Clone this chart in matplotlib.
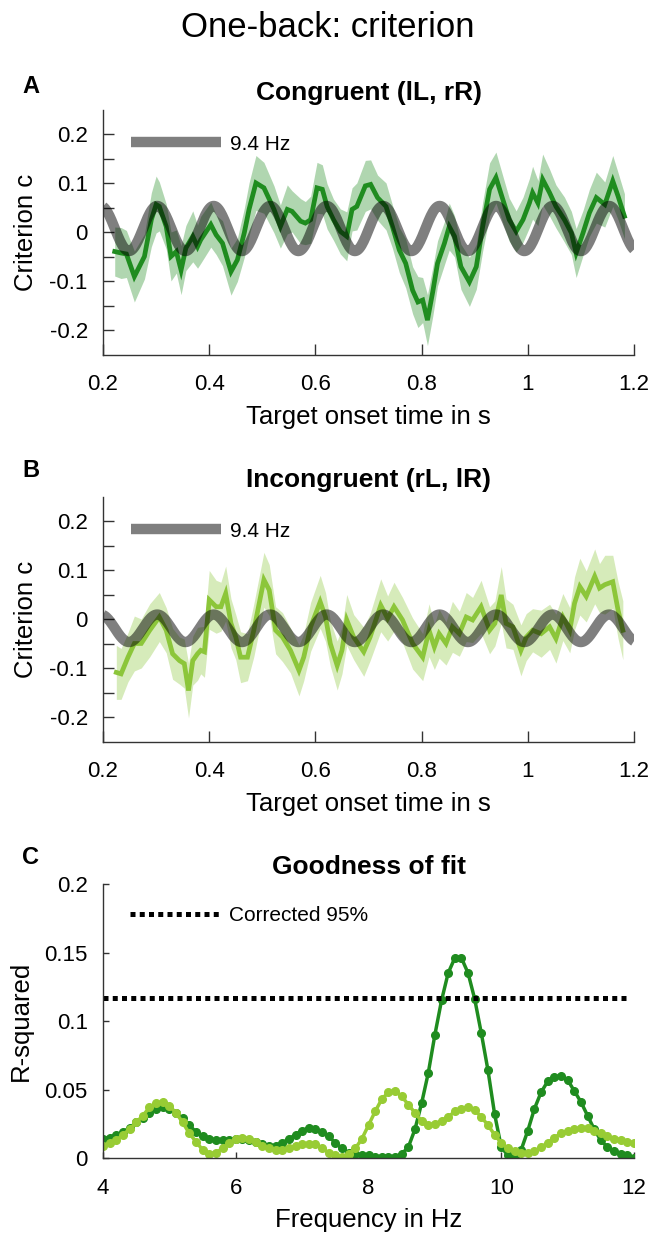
import numpy as np
import matplotlib
matplotlib.use('Agg')
import matplotlib.pyplot as plt

plt.rcParams['font.family'] = ['Liberation Sans', 'DejaVu Sans']
plt.rcParams['axes.unicode_minus'] = False

# Panel A: congruent (lL, rR), mean criterion and its error band
time_a = [0.222, 0.234, 0.244, 0.259, 0.278, 0.291, 0.300, 0.306, 0.319, 0.328,
          0.338, 0.347, 0.356, 0.369, 0.378, 0.384, 0.403, 0.413, 0.425, 0.441,
          0.453, 0.466, 0.475, 0.488, 0.503, 0.522, 0.534, 0.547, 0.556, 0.572,
          0.581, 0.591, 0.603, 0.613, 0.622, 0.634, 0.647, 0.659, 0.669, 0.678,
          0.694, 0.704, 0.717, 0.733, 0.745, 0.758, 0.770, 0.783, 0.793, 0.802,
          0.811, 0.821, 0.830, 0.843, 0.852, 0.862, 0.874, 0.890, 0.903, 0.915,
          0.928, 0.940, 0.953, 0.965, 0.978, 0.991, 1.003, 1.009, 1.019, 1.028,
          1.041, 1.053, 1.069, 1.082, 1.091, 1.104, 1.116, 1.129, 1.145, 1.160,
          1.170, 1.182]
crit_a = [-0.039, -0.042, -0.044, -0.090, -0.049, 0.026, 0.057, 0.053, 0.012, -0.049,
          -0.039, -0.077, -0.032, -0.008, -0.029, -0.015, 0.016, -0.005, -0.022, -0.080,
          -0.056, -0.001, 0.047, 0.101, 0.091, 0.047, 0.012, 0.047, 0.043, 0.023,
          0.019, 0.026, 0.091, 0.088, 0.053, 0.026, 0.002, -0.008, 0.047, 0.053,
          0.095, 0.098, 0.071, 0.053, 0.012, -0.036, -0.063, -0.118, -0.142, -0.138,
          -0.179, -0.121, -0.063, -0.022, 0.012, -0.008, -0.070, -0.101, -0.070, 0.012,
          0.088, 0.112, 0.067, 0.026, 0.002, 0.026, 0.060, 0.081, 0.060, 0.108,
          0.081, 0.053, 0.026, -0.001, -0.042, -0.001, 0.040, 0.071, 0.057, 0.105,
          0.074, 0.033]
sem_a = [0.050, 0.052, 0.048, 0.052, 0.046, 0.055, 0.058, 0.050, 0.046, 0.050,
         0.044, 0.050, 0.046, 0.052, 0.044, 0.048, 0.046, 0.040, 0.046, 0.048,
         0.044, 0.050, 0.054, 0.056, 0.052, 0.048, 0.044, 0.050, 0.042, 0.046,
         0.044, 0.048, 0.052, 0.050, 0.046, 0.042, 0.046, 0.050, 0.044, 0.048,
         0.052, 0.050, 0.046, 0.048, 0.044, 0.046, 0.050, 0.048, 0.052, 0.046,
         0.052, 0.050, 0.046, 0.044, 0.048, 0.042, 0.046, 0.050, 0.046, 0.050,
         0.054, 0.052, 0.048, 0.044, 0.042, 0.046, 0.050, 0.054, 0.046, 0.052,
         0.048, 0.044, 0.046, 0.044, 0.050, 0.046, 0.048, 0.052, 0.046, 0.052,
         0.048, 0.046]

# Panel B: incongruent (rL, lR)
time_b = [0.225, 0.234, 0.247, 0.259, 0.272, 0.288, 0.306, 0.319, 0.331, 0.344,
          0.353, 0.361, 0.369, 0.378, 0.384, 0.391, 0.400, 0.413, 0.422, 0.431,
          0.441, 0.450, 0.459, 0.472, 0.484, 0.503, 0.513, 0.525, 0.538, 0.553,
          0.569, 0.578, 0.591, 0.609, 0.619, 0.628, 0.641, 0.650, 0.659, 0.672,
          0.691, 0.703, 0.723, 0.736, 0.748, 0.764, 0.783, 0.802, 0.814, 0.824,
          0.833, 0.846, 0.858, 0.871, 0.884, 0.896, 0.912, 0.928, 0.938, 0.950,
          0.959, 0.972, 0.987, 0.997, 1.009, 1.025, 1.041, 1.053, 1.066, 1.079,
          1.088, 1.098, 1.110, 1.126, 1.135, 1.145, 1.160, 1.170, 1.179]
crit_b = [-0.108, -0.111, -0.077, -0.049, -0.049, -0.022, 0.005, -0.022, -0.070, -0.084,
          -0.090, -0.145, -0.084, -0.070, -0.063, -0.066, 0.040, 0.026, 0.026, 0.053,
          -0.008, -0.036, -0.077, -0.077, -0.022, 0.081, 0.060, -0.022, -0.036, -0.063,
          -0.104, -0.077, -0.015, 0.036, 0.005, -0.049, -0.094, -0.063, -0.001, -0.036,
          -0.066, -0.036, 0.029, 0.002, 0.026, -0.001, -0.049, -0.077, -0.022, -0.056,
          -0.029, -0.049, -0.015, -0.029, 0.005, -0.001, 0.026, -0.022, -0.008, 0.050,
          -0.008, -0.015, -0.063, -0.036, -0.022, -0.029, -0.015, -0.039, 0.005, -0.022,
          0.033, 0.067, 0.047, 0.088, 0.064, 0.071, 0.077, 0.019, -0.022]
sem_b = [0.055, 0.052, 0.050, 0.056, 0.050, 0.054, 0.050, 0.046, 0.052, 0.048,
         0.050, 0.056, 0.050, 0.054, 0.048, 0.052, 0.060, 0.054, 0.050, 0.056,
         0.050, 0.046, 0.052, 0.048, 0.054, 0.056, 0.052, 0.048, 0.050, 0.046,
         0.052, 0.048, 0.050, 0.054, 0.050, 0.046, 0.050, 0.048, 0.052, 0.046,
         0.050, 0.048, 0.054, 0.046, 0.050, 0.046, 0.052, 0.048, 0.054, 0.046,
         0.050, 0.044, 0.052, 0.046, 0.050, 0.046, 0.054, 0.048, 0.046, 0.058,
         0.050, 0.046, 0.052, 0.048, 0.044, 0.048, 0.046, 0.050, 0.048, 0.046,
         0.054, 0.058, 0.052, 0.056, 0.050, 0.060, 0.054, 0.058, 0.060]

# 9.4 Hz sinusoid fitted to each time course
fit_freq = 9.4
fit_peak_time = 0.302
fit_offset_a, fit_amp_a = 0.008, 0.046
fit_offset_b, fit_amp_b = -0.018, 0.028

# Panel C: goodness of fit over frequencies
freqs = [round(4 + 0.1 * i, 1) for i in range(81)]
rsq_congruent = [0.014, 0.015, 0.017, 0.019, 0.022, 0.026, 0.029, 0.033, 0.036, 0.037,
                 0.036, 0.033, 0.029, 0.024, 0.019, 0.016, 0.014, 0.013, 0.013, 0.013,
                 0.014, 0.014, 0.013, 0.012, 0.010, 0.009, 0.009, 0.011, 0.014, 0.017,
                 0.020, 0.022, 0.021, 0.019, 0.016, 0.011, 0.007, 0.004, 0.003, 0.002,
                 0.002, 0.001, 0.001, 0.001, 0.001, 0.003, 0.008, 0.021, 0.040, 0.062,
                 0.090, 0.115, 0.135, 0.146, 0.146, 0.135, 0.116, 0.091, 0.064, 0.032,
                 0.008, 0.002, 0.000, 0.006, 0.020, 0.036, 0.048, 0.056, 0.059, 0.060,
                 0.057, 0.049, 0.041, 0.031, 0.021, 0.013, 0.008, 0.005, 0.003, 0.002,
                 0.000]
rsq_incongruent = [0.009, 0.011, 0.013, 0.017, 0.021, 0.026, 0.031, 0.037, 0.040, 0.041,
                   0.038, 0.033, 0.026, 0.018, 0.012, 0.006, 0.003, 0.004, 0.007, 0.011,
                   0.014, 0.015, 0.014, 0.012, 0.009, 0.007, 0.006, 0.006, 0.007, 0.009,
                   0.010, 0.010, 0.010, 0.007, 0.004, 0.002, 0.001, 0.003, 0.007, 0.014,
                   0.024, 0.034, 0.043, 0.048, 0.049, 0.045, 0.039, 0.033, 0.027, 0.024,
                   0.025, 0.027, 0.030, 0.034, 0.036, 0.037, 0.035, 0.030, 0.024, 0.017,
                   0.011, 0.007, 0.005, 0.004, 0.004, 0.005, 0.008, 0.011, 0.015, 0.018,
                   0.020, 0.021, 0.022, 0.022, 0.020, 0.018, 0.016, 0.014, 0.013, 0.012,
                   0.011]
threshold_95 = 0.117

dark_green = '#1f8c1f'
light_green = '#8cc63a'
light_green_c = '#98cc34'


def style_axes(ax, tick_len=8):
    for side in ['top', 'right']:
        ax.spines[side].set_visible(False)
    for side in ['left', 'bottom']:
        ax.spines[side].set_color('#333333')
        ax.spines[side].set_linewidth(1.0)
    ax.tick_params(direction='in', length=tick_len, width=1.0, color='#333333',
                   labelsize=16)
    ax.tick_params(axis='x', pad=14)
    ax.tick_params(axis='y', pad=11)


def time_panel(ax, t, m, s, color, offset, amp, title):
    t = np.array(t)
    m = np.array(m)
    s = np.array(s)
    ax.fill_between(t, m - s, m + s, color=color, alpha=0.35, lw=0)
    ax.plot(t, m, color=color, lw=3.4, solid_joinstyle='miter')
    tt = np.linspace(0.2, 1.2, 500)
    fit = offset + amp * np.cos(2 * np.pi * fit_freq * (tt - fit_peak_time))
    sine, = ax.plot(tt, fit, color='black', alpha=0.5, lw=7.5, label='9.4 Hz',
                    solid_capstyle='butt')
    ax.legend(handles=[sine], loc='center left', bbox_to_anchor=(0.053, 0.86),
              frameon=False, fontsize=15, handlelength=4.3, handletextpad=0.45,
              borderpad=0, borderaxespad=0)
    ax.set_xlim(0.2, 1.2)
    ax.set_ylim(-0.25, 0.25)
    ax.set_xticks([0.2, 0.4, 0.6, 0.8, 1.0, 1.2])
    ax.set_xticklabels(['0.2', '0.4', '0.6', '0.8', '1', '1.2'])
    yt = np.round(np.arange(-0.2, 0.2001, 0.05), 2)
    ax.set_yticks(yt)
    ax.set_yticklabels(['-0.2', '', '-0.1', '', '0', '', '0.1', '', '0.2'])
    ax.set_xlabel('Target onset time in s', fontsize=18.5, labelpad=7)
    ax.set_ylabel('Criterion c', fontsize=18.5, labelpad=8)
    ax.set_title(title, fontsize=19, fontweight='bold', pad=7)
    style_axes(ax)


fig = plt.figure(figsize=(6.48, 12.35), dpi=100)
ax_a = fig.add_axes([0.159, 0.7126, 0.8194, 0.1984])
ax_b = fig.add_axes([0.159, 0.3992, 0.8194, 0.1984])
ax_c = fig.add_axes([0.159, 0.0623, 0.8194, 0.2219])

time_panel(ax_a, time_a, crit_a, sem_a, dark_green, fit_offset_a, fit_amp_a,
           'Congruent (lL, rR)')
time_panel(ax_b, time_b, crit_b, sem_b, light_green, fit_offset_b, fit_amp_b,
           'Incongruent (rL, lR)')

# Goodness of fit
ax_c.plot(freqs, rsq_congruent, color=dark_green, lw=2.5, marker='o', ms=5.5)
ax_c.plot(freqs, rsq_incongruent, color=light_green_c, lw=2.5, marker='o', ms=5.5)
thr = ax_c.axhline(threshold_95, xmin=0, xmax=0.99, color='black', lw=3.6,
                   dashes=(1.0, 0.85), dash_capstyle='butt', label='Corrected 95%')
ax_c.legend(handles=[thr], loc='center left', bbox_to_anchor=(0.051, 0.885),
            frameon=False, fontsize=15, handlelength=4.3, handletextpad=0.45,
            borderpad=0, borderaxespad=0)
ax_c.set_xlim(4, 12)
ax_c.set_ylim(0, 0.2)
ax_c.set_xticks([4, 6, 8, 10, 12])
ax_c.set_yticks([0, 0.05, 0.1, 0.15, 0.2])
ax_c.set_yticklabels(['0', '0.05', '0.1', '0.15', '0.2'])
ax_c.set_xlabel('Frequency in Hz', fontsize=18.5, labelpad=7)
ax_c.set_ylabel('R-squared', fontsize=18.5, labelpad=8)
ax_c.set_title('Goodness of fit', fontsize=19, fontweight='bold', pad=7)
style_axes(ax_c, tick_len=4)

fig.text(0.506, 0.978, 'One-back: criterion', fontsize=25, ha='center', va='center')
fig.text(0.034, 0.925, 'A', fontsize=17, fontweight='bold', va='baseline')
fig.text(0.034, 0.614, 'B', fontsize=17, fontweight='bold', va='baseline')
fig.text(0.034, 0.300, 'C', fontsize=17, fontweight='bold', va='baseline')

fig.savefig('out.png', dpi=100)
